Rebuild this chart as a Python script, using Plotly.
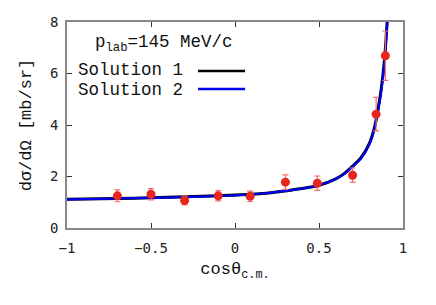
import plotly.graph_objects as go

# Data points
data_x = [-0.70, -0.50, -0.30, -0.10, 0.09, 0.30, 0.49, 0.70, 0.84, 0.895]
data_y = [1.25, 1.31, 1.07, 1.25, 1.23, 1.78, 1.74, 2.05, 4.42, 6.69]
data_err = [0.23, 0.22, 0.17, 0.20, 0.20, 0.28, 0.28, 0.28, 0.65, 0.96]

# Curves
curve_x = [-1.0, -0.8, -0.6, -0.4, -0.2, 0.0, 0.2, 0.3, 0.4, 0.5, 0.6, 0.65, 0.7,
           0.75, 0.8, 0.83, 0.85, 0.87, 0.89, 0.905, 0.915]
sol1_y = [1.12, 1.14, 1.16, 1.19, 1.23, 1.28, 1.36, 1.44, 1.53, 1.66, 1.91, 2.11, 2.40,
          2.73, 3.29, 3.90, 4.56, 5.38, 6.55, 7.95, 9.1]
sol2_y = [1.11, 1.13, 1.16, 1.18, 1.22, 1.27, 1.36, 1.44, 1.53, 1.66, 1.90, 2.10, 2.38,
          2.70, 3.25, 3.85, 4.50, 5.30, 6.45, 7.85, 9.0]

x_ticks = [-1, -0.5, 0, 0.5, 1]
x_tick_text = ["−1", "−0.5", "0", "0.5", "1"]
y_ticks = [0, 2, 4, 6, 8]

mono = "Liberation Mono"
tickfont = dict(family="DejaVu Sans Mono", size=14, color="#222")

fig = go.Figure()
fig.add_trace(go.Scatter(x=curve_x, y=sol1_y, mode="lines", name="Solution 1",
                         line=dict(color="black", width=3, shape="spline", smoothing=0.6)))
fig.add_trace(go.Scatter(x=curve_x, y=sol2_y, mode="lines", name="Solution 2",
                         line=dict(color="#0000ee", width=2.2, shape="spline", smoothing=0.6)))
fig.add_trace(go.Scatter(x=data_x, y=data_y, mode="markers", name="data",
                         marker=dict(color="#e8261c", size=9),
                         error_y=dict(type="data", array=data_err, color="#f07070",
                                      thickness=1.2, width=3)))

axis_common = dict(showline=True, linecolor="#888", linewidth=1.5, mirror="ticks",
                   ticks="inside", ticklen=5, tickcolor="#333", showgrid=False,
                   zeroline=False, tickfont=tickfont, automargin=False)

fig.update_layout(
    width=420, height=289,
    margin=dict(l=59, r=25, t=14, b=69),
    paper_bgcolor="white", plot_bgcolor="white",
    showlegend=False,
    xaxis=dict(range=[-1, 1], tickvals=x_ticks, ticktext=x_tick_text, ticklabelstandoff=6,
               title=dict(text="cosθ<sub>c.m.</sub>", font=dict(family=mono, size=17, color="#111"),
                          standoff=8),
               **axis_common),
    yaxis=dict(range=[0, 8], tickvals=y_ticks, ticklabelstandoff=4,
               title=dict(text="dσ/dΩ [mb/sr]", font=dict(family=mono, size=17, color="#111"),
                          standoff=14),
               **axis_common),
)

fig.add_annotation(x=0.077, y=0.898, xref="paper", yref="paper", xanchor="left", yanchor="middle",
                   text="p<sub>lab</sub>=145 MeV/c", showarrow=False,
                   font=dict(family=mono, size=17.5, color="#111"))
fig.add_annotation(x=0.352, y=0.765, xref="paper", yref="paper", xanchor="right", yanchor="middle",
                   text="Solution 1", showarrow=False, font=dict(family=mono, size=17.5, color="#111"))
fig.add_annotation(x=0.352, y=0.672, xref="paper", yref="paper", xanchor="right", yanchor="middle",
                   text="Solution 2", showarrow=False, font=dict(family=mono, size=17.5, color="#111"))
fig.add_shape(type="line", xref="paper", yref="paper", x0=0.39, x1=0.53, y0=0.762, y1=0.762,
              line=dict(color="black", width=2.5))
fig.add_shape(type="line", xref="paper", yref="paper", x0=0.39, x1=0.53, y0=0.675, y1=0.675,
              line=dict(color="#0000ee", width=2.5))

fig.write_html("out.html")
